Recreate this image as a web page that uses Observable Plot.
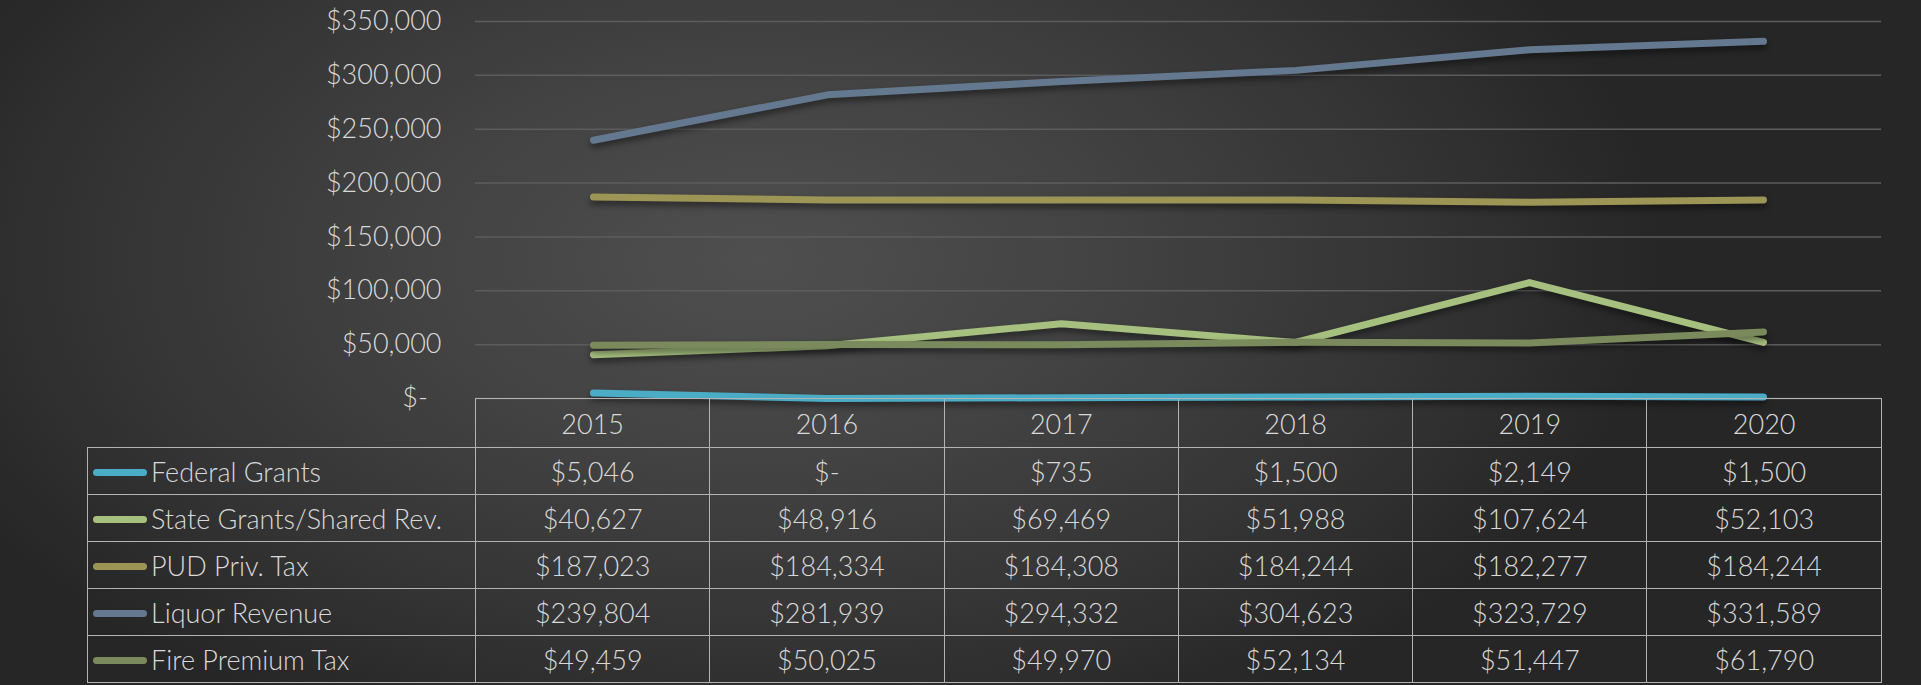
<!DOCTYPE html>
<html>
<head>
<meta charset="utf-8">
<script src="https://cdn.jsdelivr.net/npm/d3@7"></script>
<script src="https://cdn.jsdelivr.net/npm/@observablehq/plot@0.6"></script>
<style>
  html, body { margin: 0; padding: 0; background: #262626; }
  #wrap {
    position: relative; width: 1921px; height: 685px; overflow: hidden;
    background: radial-gradient(ellipse 900px 520px at 760px 260px, #4f4f4f 0%, #424242 40%, #333333 75%, #262626 100%);
    font-family: "Lato", "Open Sans", sans-serif; font-weight: 300; color: #d9d9d9;
  }
  #chart { position: absolute; left: 0; top: 0; }
  #chart svg text { font-family: "Lato", "Open Sans", sans-serif; font-weight: 300; }
  #chart svg .lines path { filter: drop-shadow(0px 4px 3px rgba(0,0,0,0.45)); }
  #table { position: absolute; left: 87px; top: 398px; border-collapse: collapse; table-layout: fixed; }
  #table td { border: 1.5px solid #b3b3b3; padding: 0; font-size: 27px; text-align: center; white-space: nowrap; color: #d9d9d9; }
  #table tr.head td { height: 48px; }
  #table tr.row td { height: 46px; }
  #table td.blank { border-left: none; border-top: none; }
  #table td.lab { text-align: left; padding-left: 5px; }
  .sw { display: inline-block; width: 54px; height: 7px; border-radius: 4px; vertical-align: middle; margin-right: 4px; position: relative; top: -2px; }
</style>
</head>
<body>
<div id="wrap">
  <div id="chart"></div>
  <table id="table"></table>
</div>
<script>
const years = ["2015", "2016", "2017", "2018", "2019", "2020"];
const seriesNames = ["Federal Grants", "State Grants/Shared Rev.", "PUD Priv. Tax", "Liquor Revenue", "Fire Premium Tax"];
const federalGrants = [5046, 0, 735, 1500, 2149, 1500];
const stateGrants = [40627, 48916, 69469, 51988, 107624, 52103];
const pudPrivTax = [187023, 184334, 184308, 184244, 182277, 184244];
const liquorRevenue = [239804, 281939, 294332, 304623, 323729, 331589];
const firePremiumTax = [49459, 50025, 49970, 52134, 51447, 61790];
const seriesColors = ["#4bacc6", "#a6c07f", "#9c9555", "#64788f", "#7a8a5d"];
const yTicks = [0, 50000, 100000, 150000, 200000, 250000, 300000, 350000];

const seriesValues = [federalGrants, stateGrants, pudPrivTax, liquorRevenue, firePremiumTax];
const rows = [];
seriesNames.forEach((name, i) => {
  years.forEach((yr, j) => rows.push({series: name, year: yr, value: seriesValues[i][j]}));
});

const money = v => v === 0 ? "$-" : "$" + d3.format(",")(v);

const chart = Plot.plot({
  width: 1921,
  height: 420,
  marginTop: 21,
  marginBottom: 22,
  marginLeft: 475,
  marginRight: 40,
  style: {background: "transparent", color: "#d9d9d9", overflow: "visible"},
  x: {type: "point", domain: years, padding: 0.5, axis: null},
  y: {domain: [0, 350000], axis: null},
  color: {domain: seriesNames, range: seriesColors},
  marks: [
    Plot.gridY(yTicks, {stroke: "#5c5c5c", strokeOpacity: 1, strokeWidth: 1.5}),
    Plot.axisY(yTicks, {
      label: null, tickSize: 0, tickPadding: 34, fontSize: 27, fill: "#d9d9d9",
      tickFormat: v => v === 0 ? "$-\u2002" : money(v)
    }),
    Plot.line(rows, {x: "year", y: "value", z: "series", stroke: "series",
      strokeWidth: 7, strokeLinecap: "round", strokeLinejoin: "round", className: "lines"})
  ]
});
document.getElementById("chart").appendChild(chart);

// data table with legend keys, built from the same arrays
const table = document.getElementById("table");
const colgroup = document.createElement("colgroup");
const c0 = document.createElement("col"); c0.style.width = "388px"; colgroup.appendChild(c0);
years.forEach(() => { const c = document.createElement("col"); c.style.width = "234.3px"; colgroup.appendChild(c); });
table.appendChild(colgroup);
const head = document.createElement("tr"); head.className = "head";
const blank = document.createElement("td"); blank.className = "blank"; head.appendChild(blank);
years.forEach(y => { const td = document.createElement("td"); td.textContent = y; head.appendChild(td); });
table.appendChild(head);
seriesNames.forEach((name, i) => {
  const tr = document.createElement("tr"); tr.className = "row";
  const lab = document.createElement("td"); lab.className = "lab";
  const sw = document.createElement("span"); sw.className = "sw"; sw.style.background = seriesColors[i];
  lab.appendChild(sw); lab.appendChild(document.createTextNode(name));
  tr.appendChild(lab);
  seriesValues[i].forEach(v => { const td = document.createElement("td"); td.textContent = money(v); tr.appendChild(td); });
  table.appendChild(tr);
});
</script>
</body>
</html>
